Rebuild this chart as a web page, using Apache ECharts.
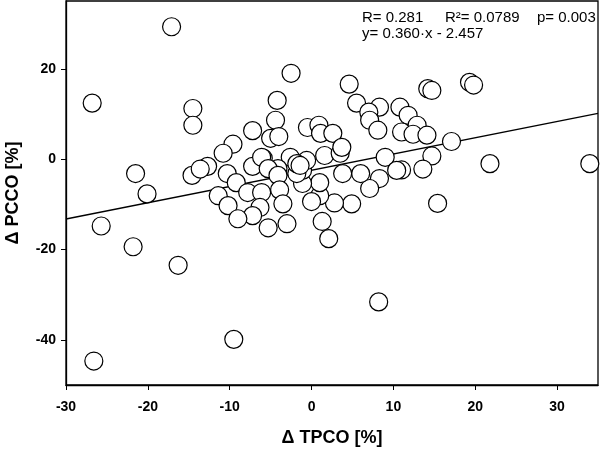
<!DOCTYPE html>
<html>
<head>
<meta charset="utf-8">
<script src="https://cdn.jsdelivr.net/npm/echarts@6/dist/echarts.min.js"></script>
<style>
  html, body { margin: 0; padding: 0; background: #fff; }
  #chart { width: 600px; height: 451px; }
</style>
</head>
<body>
<div id="chart"></div>
<script>
// ΔTPCO [%] vs ΔPCCO [%]
const points = [
  [-17.1, 29.3], [-26.8, 12.4], [-25.7, -14.8], [-26.6, -44.7], [-21.8, -19.4],
  [-21.5, -3.2], [-20.1, -7.7], [-16.3, -23.5], [-14.5, 11.2], [-14.5, 7.5],
  [-14.6, -3.6], [-9.5, -39.9], [8.2, -31.6], [-2.5, 19.0], [4.6, 16.6],
  [5.5, 12.4], [34.0, -1.0], [21.8, -1.0], [15.4, -9.8], [19.3, 17.0],
  [19.8, 16.4], [14.2, 15.6], [14.7, 15.2], [17.1, 3.9], [14.7, 0.7],
  [8.3, 11.5], [7.0, 10.4], [7.1, 8.6], [8.1, 6.4], [10.8, 11.5],
  [11.8, 9.7], [12.9, 7.5], [11.0, 6.0], [12.4, 5.5], [14.1, 5.3],
  [9.0, 0.4], [11.0, -2.4], [13.6, -2.2], [10.4, -2.5], [8.3, -4.3],
  [7.1, -6.5], [6.0, -3.2], [3.8, -3.2], [4.9, -9.9], [2.8, -9.7],
  [1.0, -8.1], [0.0, -9.4], [1.3, -13.8], [2.1, -17.6], [1.0, -5.2],
  [-1.1, -5.4], [-1.1, -2.5], [-1.8, -3.2], [-4.2, 13.0], [-4.4, 8.6],
  [-5.0, 4.6], [-4.0, 5.0], [-0.5, 7.0], [0.9, 7.5], [1.1, 5.7],
  [2.6, 5.7], [1.6, 0.8], [3.5, 1.3], [3.7, 2.6], [-2.6, 0.4],
  [-0.6, -0.3], [-5.9, 0.2], [-1.8, -1.0], [-4.1, -2.1], [-7.2, 6.3],
  [-9.6, 3.3], [-10.8, 1.3], [-12.7, -1.6], [-7.2, -1.6], [-6.1, 0.4],
  [-1.4, -1.4], [-13.6, -2.2], [-10.3, -3.2], [-9.2, -5.2], [-11.4, -8.1],
  [-10.2, -10.3], [-7.8, -7.4], [-6.1, -7.4], [-6.3, -10.7], [-7.2, -12.5],
  [-9.0, -13.2], [-5.3, -15.2], [-5.3, -2.1], [-4.1, -3.6], [-3.9, -6.8],
  [-3.5, -9.9], [-3.0, -14.3]
];

// regression y = 0.360·x - 2.457
const slope = 0.360;
const intercept = -2.457;
const xRange = [-30, 35];
const yRange = [-50, 35];
const xTicks = [-30, -20, -10, 0, 10, 20, 30];
const yTicks = [-40, -20, 0, 20];
const statLine1 = ['R= 0.281', 'R²= 0.0789', 'p= 0.003'];
const statLine2 = 'y= 0.360·x - 2.457';

const fitLine = xRange.map(x => [x, slope * x + intercept]);

const chart = echarts.init(document.getElementById('chart'));
const font = 'Liberation Sans, Arial, sans-serif';

chart.setOption({
  animation: false,
  backgroundColor: '#fff',
  grid: {
    left: 66, right: 2, top: 1, bottom: 66,
    outerBoundsMode: 'none',
    containLabel: false,
    show: true, borderColor: '#000', borderWidth: 1.3
  },
  xAxis: {
    type: 'value',
    min: xRange[0], max: xRange[1],
    name: 'Δ TPCO [%]',
    nameLocation: 'middle',
    nameGap: 44,
    nameTextStyle: { fontFamily: font, fontWeight: 'bold', fontSize: 18, color: '#000' },
    axisLine: { show: true, onZero: false, lineStyle: { color: '#000', width: 1.3 } },
    axisTick: { show: true, length: 5, customValues: xTicks, lineStyle: { color: '#000' } },
    axisLabel: { customValues: xTicks, margin: 15, fontFamily: font, fontWeight: 'bold', fontSize: 14, color: '#000' },
    splitLine: { show: false }
  },
  yAxis: {
    type: 'value',
    min: yRange[0], max: yRange[1],
    name: 'Δ PCCO [%]',
    nameLocation: 'middle',
    nameGap: 44,
    nameTextStyle: { fontFamily: font, fontWeight: 'bold', fontSize: 18, color: '#000' },
    axisLine: { show: true, onZero: false, lineStyle: { color: '#000', width: 1.3 } },
    axisTick: { show: true, length: 5, customValues: yTicks, lineStyle: { color: '#000' } },
    axisLabel: { customValues: yTicks, margin: 10, fontFamily: font, fontWeight: 'bold', fontSize: 14, color: '#000' },
    splitLine: { show: false }
  },
  graphic: [
    { type: 'text', left: 362, top: 10, style: { text: statLine1[0], font: '15px ' + font, fill: '#000' } },
    { type: 'text', left: 445, top: 10, style: { text: statLine1[1], font: '15px ' + font, fill: '#000' } },
    { type: 'text', left: 537, top: 10, style: { text: statLine1[2], font: '15px ' + font, fill: '#000' } },
    { type: 'text', left: 362, top: 26, style: { text: statLine2, font: '15px ' + font, fill: '#000' } }
  ],
  series: [
    {
      type: 'line',
      data: fitLine,
      symbol: 'none',
      lineStyle: { color: '#000', width: 1.3 },
      z: 1
    },
    {
      type: 'scatter',
      data: points,
      symbol: 'circle',
      symbolSize: 18,
      itemStyle: { color: '#fff', borderColor: '#000', borderWidth: 1.2, opacity: 1 },
      z: 2
    }
  ]
});
</script>
</body>
</html>
